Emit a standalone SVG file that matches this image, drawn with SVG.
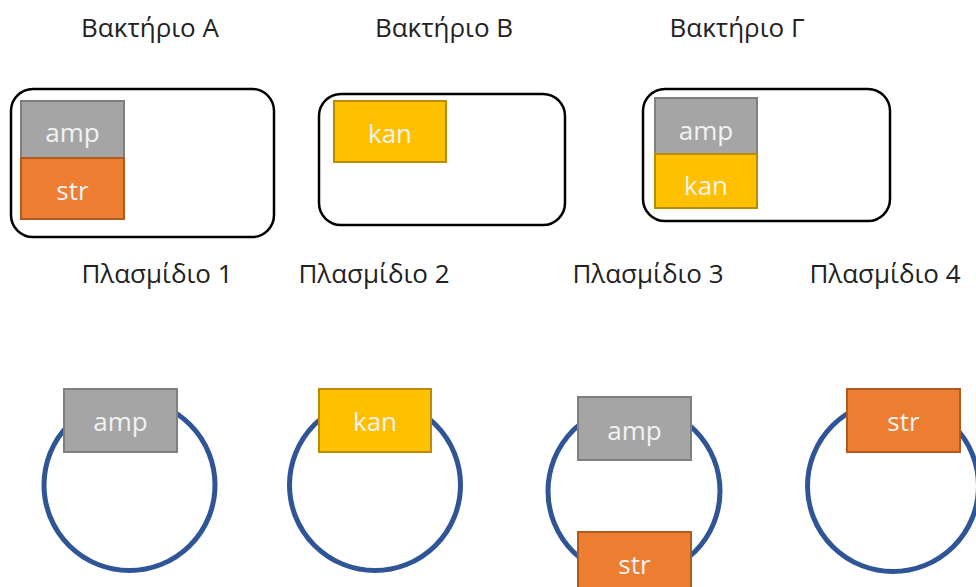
<svg xmlns="http://www.w3.org/2000/svg" width="976" height="587" viewBox="0 0 976 587">
<style>
.lbl{font-family:"Open Sans","Noto Sans","Liberation Sans",sans-serif;font-size:26px;fill:#222;text-anchor:middle}
.gt{font-family:"Open Sans","Noto Sans","Liberation Sans",sans-serif;font-size:26px;fill:#f2f2f2;text-anchor:middle;dominant-baseline:central}
.cell{fill:#fff;stroke:#000;stroke-width:2.5}
.amp{fill:#a5a5a5;stroke:#7f7f7f;stroke-width:2}
.str{fill:#ed7d31;stroke:#ae5a21;stroke-width:2}
.kan{fill:#ffc000;stroke:#bc8c00;stroke-width:2}
.pl{fill:none;stroke:#2f5597;stroke-width:5}
</style>
<rect width="976" height="587" fill="#fff"/>
<g id="connectors"/>
<g id="bacteriumA">
<text class="lbl" x="150" y="37">Βακτήριο Α</text>
<rect class="cell" x="11" y="89" width="263" height="148" rx="22"/>
<rect class="amp" x="21" y="101" width="103" height="57"/>
<text class="gt" x="72.5" y="132">amp</text>
<rect class="str" x="21" y="158" width="103" height="61"/>
<text class="gt" x="72.5" y="190">str</text>
</g>
<g id="bacteriumB">
<text class="lbl" x="444" y="37">Βακτήριο Β</text>
<rect class="cell" x="319" y="94" width="246" height="131" rx="22"/>
<rect class="kan" x="334" y="101" width="112" height="61"/>
<text class="gt" x="390" y="133">kan</text>
</g>
<g id="bacteriumG">
<text class="lbl" x="737" y="37">Βακτήριο Γ</text>
<rect class="cell" x="643" y="89" width="247" height="132" rx="22"/>
<rect class="amp" x="655" y="98" width="102" height="56"/>
<text class="gt" x="706" y="130">amp</text>
<rect class="kan" x="655" y="154" width="102" height="54"/>
<text class="gt" x="706" y="185">kan</text>
</g>
<g id="plasmid1">
<text class="lbl" x="157" y="283">Πλασμίδιο 1</text>
<circle class="pl" cx="129.5" cy="485" r="85.5"/>
<rect class="amp" x="64" y="389" width="113" height="63"/>
<text class="gt" x="120.5" y="421">amp</text>
</g>
<g id="plasmid2">
<text class="lbl" x="374" y="283">Πλασμίδιο 2</text>
<circle class="pl" cx="375" cy="485" r="85.5"/>
<rect class="kan" x="319" y="389" width="112" height="63"/>
<text class="gt" x="375" y="421">kan</text>
</g>
<g id="plasmid3">
<text class="lbl" x="648" y="283">Πλασμίδιο 3</text>
<circle class="pl" cx="634" cy="491" r="86"/>
<rect class="amp" x="578" y="397" width="113" height="63"/>
<text class="gt" x="634.5" y="430">amp</text>
<rect class="str" x="578" y="532" width="113" height="60"/>
<text class="gt" x="634.5" y="564">str</text>
</g>
<g id="plasmid4">
<text class="lbl" x="885" y="283">Πλασμίδιο 4</text>
<circle class="pl" cx="893" cy="486" r="85.5"/>
<rect class="str" x="847" y="389" width="113" height="63"/>
<text class="gt" x="903.5" y="421">str</text>
</g>
</svg>
